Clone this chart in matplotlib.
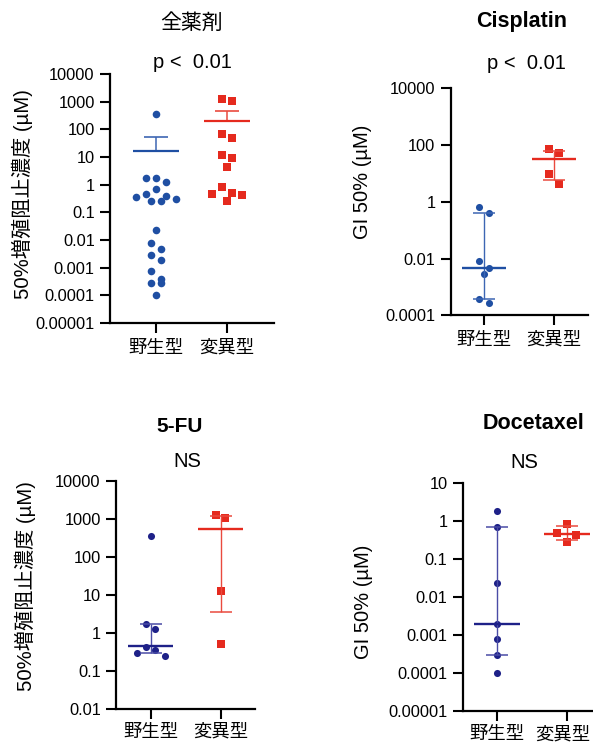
import numpy as np
import matplotlib
matplotlib.use("Agg")
import matplotlib.pyplot as plt
import matplotlib.transforms as mtransforms
from matplotlib.ticker import FixedLocator, FixedFormatter, NullLocator

plt.rcParams['font.family'] = ['Liberation Sans', 'Noto Sans CJK JP', 'DejaVu Sans']

# ---------------- data ----------------
categories = ['野生型', '変異型']

# Panel 1: all drugs (mean with upper SEM)
all_wt = [350, 1.75, 1.7, 1.23, 0.69, 0.47, 0.4, 0.35, 0.3, 0.25, 0.25,
          0.023, 0.008, 0.0047, 0.0028, 0.0019, 0.00078, 0.0004, 0.00028, 0.00028, 0.0001]
all_mut = [1250, 1090, 70, 50, 12, 9.3, 4.4, 0.83, 0.5, 0.47, 0.43, 0.26]
all_mean = [17, 205]
all_upper = [53, 475]

# Panel 2: Cisplatin (median with interquartile range)
cis_wt = [0.68, 0.4, 0.0083, 0.0045, 0.0028, 0.00039, 0.00028]
cis_mut = [71, 51, 9.6, 4.3]
cis_median = [0.0046, 31]
cis_q1 = [0.00039, 5.8]
cis_q3 = [0.4, 64]

# Panel 3: 5-FU
fu_wt = [355, 1.7, 1.23, 0.43, 0.35, 0.3, 0.24]
fu_mut = [1270, 1040, 12.3, 0.52]
fu_median = [0.44, 530]
fu_q1 = [0.3, 3.5]
fu_q3 = [1.7, 1210]

# Panel 4: Docetaxel
doc_wt = [1.8, 0.67, 0.023, 0.0019, 0.0008, 0.0003, 0.0001]
doc_mut = [0.82, 0.47, 0.43, 0.27]
doc_median = [0.0019, 0.45]
doc_q1 = [0.0003, 0.31]
doc_q3 = [0.67, 0.74]

ticks_all = [1e4, 1e3, 1e2, 1e1, 1, 0.1, 0.01, 0.001, 0.0001, 0.00001]
ticks_cis = [1e4, 1e2, 1, 0.01, 0.0001]
ticks_fu = [1e4, 1e3, 1e2, 1e1, 1, 0.1, 0.01]
ticks_doc = [10, 1, 0.1, 0.01, 0.001, 0.0001, 0.00001]

titles = ['全薬剤', 'Cisplatin', '5-FU', 'Docetaxel']
subtitles = ['p <  0.01', 'p <  0.01', 'NS', 'NS']
ylabel_jp = '50%増殖阻止濃度 (µM)'
ylabel_gi = 'GI 50% (µM)'

# ---------------- style ----------------
BLUE = '#1f4fa3'
BLUE_L = '#3d66b3'
NAVY = '#1e2188'
NAVY_L = '#4a4ca6'
RED = '#e52a1e'
RED_L = '#ea4a3e'

W, H = 593, 751
fig = plt.figure(figsize=(W / 100, H / 100), dpi=100)


def make_ax(left, top, right, bottom, cat0, cat1, ylim, ticks):
    ax = fig.add_axes([left / W, 1 - bottom / H, (right - left) / W, (bottom - top) / H])
    unit = cat1 - cat0
    ax.set_xlim((left - cat0) / unit, 1 + (right - cat1) / unit)
    ax.set_yscale('log')
    ax.set_ylim(*ylim)
    for s in ['top', 'right']:
        ax.spines[s].set_visible(False)
    for s in ['left', 'bottom']:
        ax.spines[s].set_linewidth(1.6)
    ax.yaxis.set_major_locator(FixedLocator(ticks))
    ax.yaxis.set_major_formatter(FixedFormatter(
        [np.format_float_positional(t, trim='-') for t in ticks]))
    ax.yaxis.set_minor_locator(NullLocator())
    ax.set_xticks([0, 1])
    ax.set_xticklabels(categories, fontsize=13.2)
    ax.tick_params(axis='both', length=7, width=1.5, color='black')
    ax.tick_params(axis='y', labelsize=11.8, pad=4)
    ax.tick_params(axis='x', pad=5)
    ax.patch.set_alpha(0)
    return ax


def swarm(ax, center, values, sp_px, row_px):
    vals = np.asarray(values, float)
    ys = ax.transData.transform(np.column_stack([np.full(len(vals), center), vals]))[:, 1]
    x0, x1 = ax.get_xlim()
    ppu = ax.bbox.width / (x1 - x0)
    order = list(np.argsort(-ys, kind='stable'))
    xs = np.full(len(vals), float(center))
    rows = []
    cur = []
    for i in order:
        if cur and ys[cur[0]] - ys[i] >= row_px:
            rows.append(cur)
            cur = []
        cur.append(i)
    if cur:
        rows.append(cur)
    for row in rows:
        n = len(row)
        if n % 2 == 1:
            slots = [0]
            k = 1
            while len(slots) < n:
                slots += [-k, k]
                k += 1
        else:
            slots = []
            k = 0.5
            while len(slots) < n:
                slots += [-k, k]
                k += 1
        for idx, s in zip(row, slots):
            xs[idx] = center + s * sp_px / ppu
    return xs


def draw_points(ax, center, values, color, marker, size, sp_px, row_px):
    xs = swarm(ax, center, values, sp_px, row_px)
    ax.scatter(xs, values, s=size, marker=marker, color=color, linewidths=0,
               zorder=2, clip_on=False)


def draw_iqr(ax, center, mid, lo, hi, color, color_l, mw, cw):
    ax.vlines(center, lo, hi, color=color_l, lw=1.0, zorder=3)
    ax.hlines([lo, hi], center - cw, center + cw, color=color_l, lw=1.1, zorder=3)
    ax.hlines(mid, center - mw, center + mw, color=color, lw=1.7, zorder=3)


# ---------------- panel 1 ----------------
ax1 = make_ax(110, 74, 274, 323, 156, 227, (1e-5, 1e4), ticks_all)
draw_points(ax1, 0, all_wt, BLUE, 'o', 30, 10, 11)
draw_points(ax1, 1, all_mut, RED, 's', 36, 10, 11)
for c, m, u, col, coll in [(0, all_mean[0], all_upper[0], BLUE, BLUE_L),
                           (1, all_mean[1], all_upper[1], RED, RED_L)]:
    ax1.vlines(c, m, u, color=coll, lw=1.1, zorder=3)
    ax1.hlines(u, c - 0.175, c + 0.175, color=coll, lw=1.2, zorder=3)
    ax1.hlines(m, c - 0.33, c + 0.33, color=col, lw=1.6, zorder=3)

# ---------------- panel 2 ----------------
ax2 = make_ax(450.7, 88.3, 588, 315.3, 484, 554, (1e-4, 1e4), ticks_cis)
draw_points(ax2, 0, cis_wt, BLUE, 'o', 26, 9.3, 11.2)
draw_points(ax2, 1, cis_mut, RED, 's', 32, 9.3, 11.2)
draw_iqr(ax2, 0, cis_median[0], cis_q1[0], cis_q3[0], BLUE, BLUE_L, 0.32, 0.16)
draw_iqr(ax2, 1, cis_median[1], cis_q1[1], cis_q3[1], RED, RED_L, 0.32, 0.16)

# ---------------- panel 3 ----------------
ax3 = make_ax(116, 481, 255, 708.7, 150.7, 220.7, (1e-2, 1e4), ticks_fu)
draw_points(ax3, 0, fu_wt, NAVY, 'o', 26, 9.3, 11.2)
draw_points(ax3, 1, fu_mut, RED, 's', 32, 9.3, 11.2)
draw_iqr(ax3, 0, fu_median[0], fu_q1[0], fu_q3[0], NAVY, NAVY_L, 0.32, 0.16)
draw_iqr(ax3, 1, fu_median[1], fu_q1[1], fu_q3[1], RED, RED_L, 0.32, 0.16)

# ---------------- panel 4 ----------------
ax4 = make_ax(462.7, 482.7, 593, 711, 496.7, 566.7, (1e-5, 10), ticks_doc)
draw_points(ax4, 0, doc_wt, NAVY, 'o', 26, 9.3, 11.2)
draw_points(ax4, 1, doc_mut, RED, 's', 32, 9.3, 11.2)
draw_iqr(ax4, 0, doc_median[0], doc_q1[0], doc_q3[0], NAVY, NAVY_L, 0.33, 0.16)
draw_iqr(ax4, 1, doc_median[1], doc_q1[1], doc_q3[1], RED, RED_L, 0.33, 0.16)
ax3.tick_params(axis='x', pad=4)
ax4.tick_params(axis='x', pad=4)
# keep the right-most category label inside the figure edge
_shift = mtransforms.ScaledTranslation(-3 / 72, 0, fig.dpi_scale_trans)
_lbl = ax4.get_xticklabels()[1]
_lbl.set_transform(_lbl.get_transform() + _shift)


def ftext(x, y, s, **kw):
    fig.text(x / W, 1 - y / H, s, ha='center', va='center', **kw)


# titles
ftext(192, 23, titles[0], fontsize=15)
ftext(521.7, 21.7, titles[1], fontsize=15.5, fontweight='bold')
ftext(180, 426.7, titles[2], fontsize=15, fontweight='bold')
ftext(533, 423, titles[3], fontsize=15.5, fontweight='bold')
# subtitles
ftext(192, 63, subtitles[0], fontsize=14.5)
ftext(526, 63.3, subtitles[1], fontsize=14.5)
ftext(187, 461.7, subtitles[2], fontsize=14.5)
ftext(524, 463, subtitles[3], fontsize=14.5)
# y labels
ftext(22.7, 194, ylabel_jp, fontsize=14.6, rotation=90)
ftext(363, 181.5, ylabel_gi, fontsize=14.5, rotation=90)
ftext(25, 586.5, ylabel_jp, fontsize=14.6, rotation=90)
ftext(363.3, 601.7, ylabel_gi, fontsize=14.5, rotation=90)

fig.savefig('out.png', dpi=100)
